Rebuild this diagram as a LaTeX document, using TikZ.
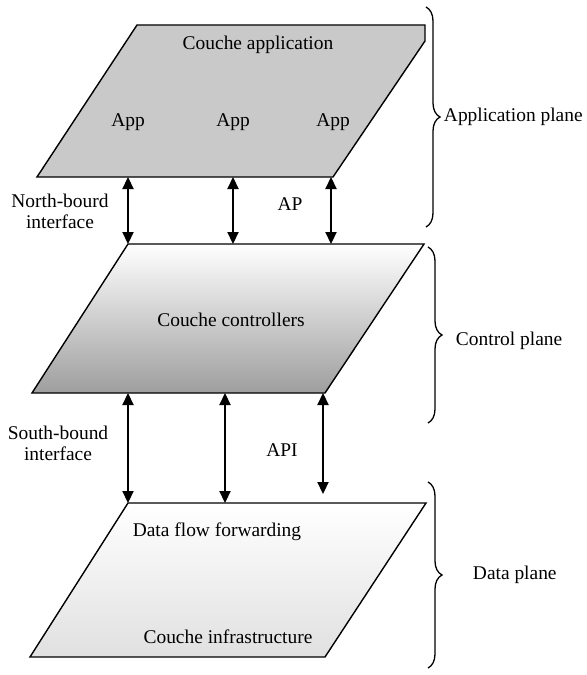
\documentclass[tikz,border=0pt]{standalone}
\usepackage{fontspec}
\setmainfont{Liberation Serif}
\usetikzlibrary{arrows.meta}
\usetikzlibrary{decorations.pathreplacing}

\begin{document}
\begin{tikzpicture}[x=1bp, y=-1bp,
    every node/.style={font=\fontsize{19.5}{21}\selectfont, align=center},
    layer/.style={draw, line width=1.4bp, line join=miter},
    link/.style={<->, line width=2.2bp, >={Triangle[length=12bp,width=11bp]}},
    plane/.style={decorate, decoration={brace, amplitude=14bp}, line width=1.3bp}]
    \useasboundingbox (0, 0) rectangle (587, 675);

    % the three layers
    \draw [layer, fill=black!21] (37, 177) -- (137, 25) -- (425, 25)
	-- (425, 41) -- (333, 177) -- cycle;
    \draw [layer, top color=white, bottom color=black!38] (32, 393)
	-- (128, 244) -- (424, 244) -- (325, 393) -- cycle;
    \draw [layer, top color=white, bottom color=black!12] (30, 657)
	-- (128, 503) -- (426, 503) -- (325, 657) -- cycle;

    \path (258, 45) node (ca) {Couche application};
    \path (128, 122) node (app1) {App};
    \path (233, 122) node (app2) {App};
    \path (333, 122) node (app3) {App};
    \path (231, 320) node (cc) {Couche controllers};
    \path (217, 532) node (dff) {Data flow forwarding};
    \path (228, 637) node (ci) {Couche infrastructure};

    % north-bound arrows
    \path (128, 177) coordinate (nb1t) (128, 244) coordinate (nb1b);
    \path (233, 177) coordinate (nb2t) (233, 244) coordinate (nb2b);
    \path (331, 177) coordinate (nb3t) (331, 244) coordinate (nb3b);
    \draw [link] (nb1t) -- (nb1b);
    \draw [link] (nb2t) -- (nb2b);
    \draw [link] (nb3t) -- (nb3b);
    \path (60, 211) node (nbi) {North-bourd\\interface};
    \path (290, 204) node (ap) {AP};

    % south-bound arrows
    \path (128, 393) coordinate (sb1t) (128, 503) coordinate (sb1b);
    \path (225, 393) coordinate (sb2t) (225, 503) coordinate (sb2b);
    \path (323, 393) coordinate (sb3t) (323, 494) coordinate (sb3b);
    \draw [link] (sb1t) -- (sb1b);
    \draw [link] (sb2t) -- (sb2b);
    \draw [link] (sb3t) -- (sb3b);
    \path (58, 443) node (sbi) {South-bound\\interface};
    \path (282, 450) node (api) {API};

    % planes
    \path (426, 7) coordinate (apt) (426, 227) coordinate (apb);
    \path (428, 247) coordinate (cpt) (428, 423) coordinate (cpb);
    \path (428, 482) coordinate (dpt) (428, 668) coordinate (dpb);
    \draw [plane] (apt) -- (apb) node[midway, right, xshift=14bp] (apl)
	{Application plane};
    \draw [plane] (cpt) -- (cpb) node[midway, right, xshift=24bp, yshift=-6bp]
	(cpl) {Control plane};
    \draw [plane] (dpt) -- (dpb) node[midway, right, xshift=41bp] (dpl)
	{Data plane};
\end{tikzpicture}
\end{document}
